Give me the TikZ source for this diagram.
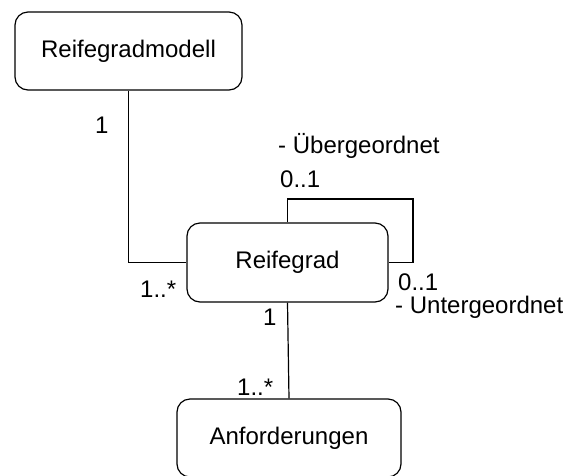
\documentclass[tikz,border=0pt]{standalone}
\usepackage{fontspec}
\setmainfont{Liberation Sans}
\begin{document}
\begin{tikzpicture}[x=1pt,y=-1pt,
  classbox/.style={draw, rounded corners=13pt, line width=1.2pt, inner sep=0pt,
    font=\fontsize{24}{28}\selectfont},
  assoc/.style={draw, line width=1.2pt},
  mult/.style={anchor=base west, inner sep=0pt, font=\fontsize{24}{28}\selectfont}]
\useasboundingbox (0,0) rectangle (568,475);

% classes
\node[classbox, minimum width=227pt, minimum height=78pt] (rm) at (128.5,51) {Reifegradmodell};
\node[classbox, minimum width=201pt, minimum height=79pt] (rg) at (287.5,262.5) {Reifegrad};
\node[classbox, minimum width=224pt, minimum height=78pt] (af) at (289,438) {Anforderungen};

% corner of the self association
\coordinate (loop) at (413,199);

% associations
\draw[assoc] (rm.south) |- (rg.west);
\draw[assoc] (rg.north) |- (loop) |- (rg.east);
\draw[assoc] (rg.south) -- (af.north);

% multiplicities and roles
\node[mult] (m1) at (95,133) {1};
\node[mult] (m2) at (140,297) {1..*};
\node[mult] (role1) at (278,153) {- Übergeordnet};
\node[mult] (m3) at (280,187) {0..1};
\node[mult] (m4) at (398,290) {0..1};
\node[mult] (role2) at (395,313) {- Untergeordnet};
\node[mult] (m5) at (263,325) {1};
\node[mult] (m6) at (237,395) {1..*};
\end{tikzpicture}
\end{document}
